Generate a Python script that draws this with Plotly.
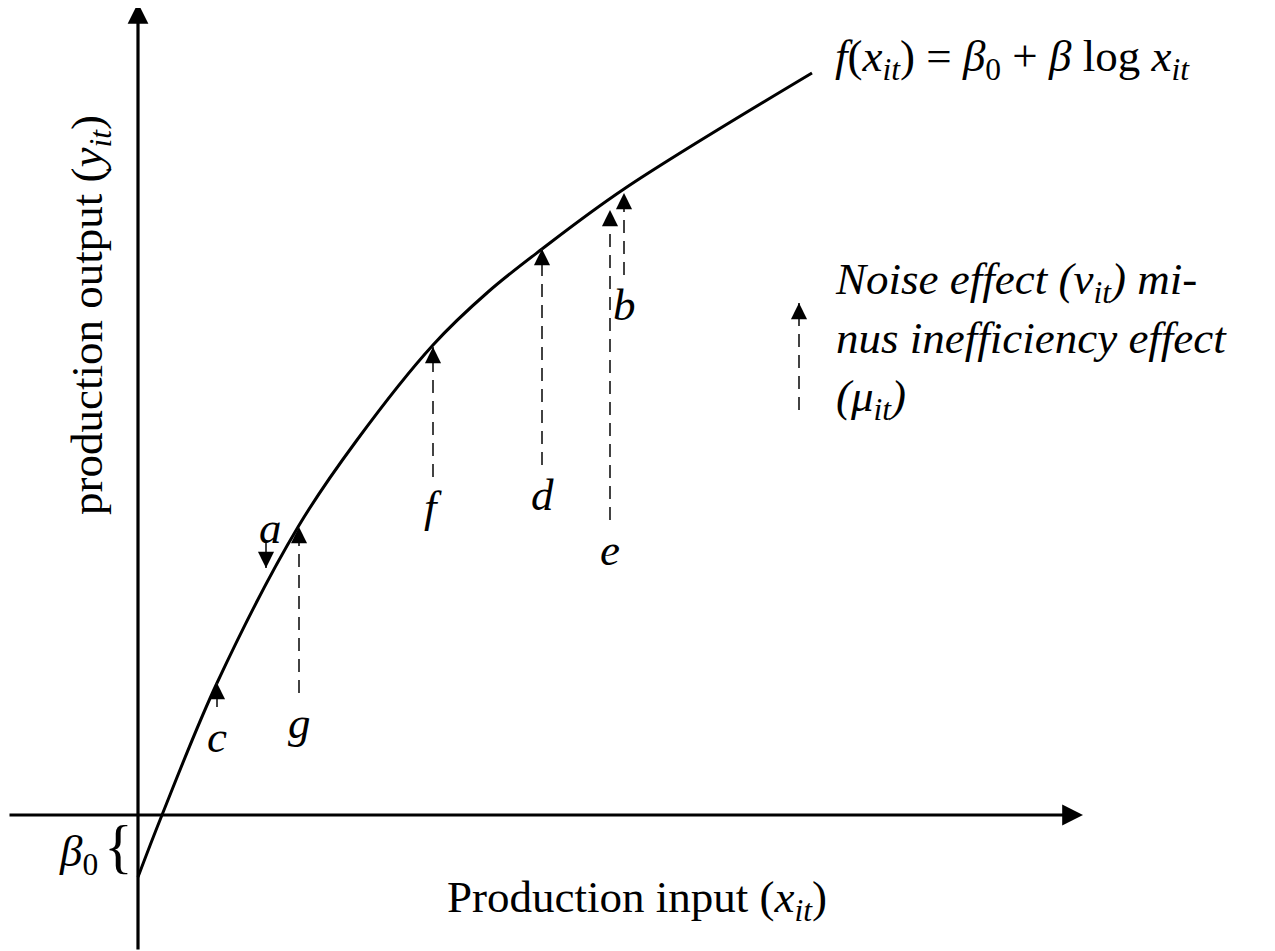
import plotly.graph_objects as go

# production frontier (1 unit = 100 px, origin where the axes cross)
curve_x = [0.0, 0.24, 0.79, 1.60, 2.19, 2.95, 3.50, 4.04, 4.86, 6.74]
curve_y = [-0.62, 0.0, 1.32, 2.88, 3.75, 4.70, 5.23, 5.66, 6.26, 7.42]

# observations: noise minus inefficiency arrows
obs_names = ["c", "g", "a", "f", "d", "e", "b"]
obs_x = [0.79, 1.61, 1.28, 2.95, 4.04, 4.72, 4.86]
obs_tail = [1.08, 1.22, 2.72, 3.38, 3.50, 2.95, 5.40]
obs_tip = [1.32, 2.88, 2.47, 4.68, 5.66, 6.05, 6.22]

# legend arrow
key_x = 6.61
key_tail = 4.05
key_tip = 5.12

beta0 = -0.62
# page has an 8px body margin, so the figure starts at page pixel 8
x_range = [-1.30, 11.37]
y_range = [-1.36, 8.07]

SERIF = "Liberation Serif, Times New Roman, serif"
FS = 45

fig = go.Figure()

fig.add_trace(go.Scatter(x=curve_x, y=curve_y, mode="lines",
                         line=dict(color="black", width=3, shape="spline", smoothing=1.0),
                         hoverinfo="skip"))

for xi, t0, t1 in zip(obs_x + [key_x], obs_tail + [key_tail], obs_tip + [key_tip]):
    fig.add_trace(go.Scatter(x=[xi, xi], y=[t0, t1], mode="lines",
                             line=dict(color="#222", width=1.7, dash="13px,8px"),
                             hoverinfo="skip"))

annotations = []

def arrow(x, y, ax, ay, width, size):
    return dict(x=x, y=y, ax=ax, ay=ay, xref="x", yref="y", axref="x", ayref="y",
                text="", showarrow=True, arrowhead=2, arrowwidth=width,
                arrowsize=size, arrowcolor="black", standoff=0, startstandoff=0)

# axes
annotations.append(arrow(0, 8.12, 0, y_range[0], 3.2, 1.3))
annotations.append(arrow(9.45, 0, -1.30, 0, 3.2, 1.3))

# arrowheads on the dashed lines
for xi, t0, t1 in zip(obs_x + [key_x], obs_tail + [key_tail], obs_tip + [key_tip]):
    d = 0.15 if t1 > t0 else -0.15
    annotations.append(arrow(xi, t1, xi, t1 - d, 1.7, 1.9))

# letters
for n, xi, t0, t1 in zip(obs_names, obs_x, obs_tail, obs_tip):
    if t1 > t0:
        lx, ly = xi, t0 - 0.30
    else:
        lx, ly = xi + 0.04, t0 + 0.15
    annotations.append(dict(x=lx, y=ly, xref="x", yref="y", text="<i>%s</i>" % n,
                            showarrow=False, yanchor="middle",
                            font=dict(family=SERIF, size=FS, color="black")))

annotations.append(dict(x=6.95, y=7.56, xref="x", yref="y", xanchor="left", showarrow=False,
                        text="<i>f</i>(<i>x</i><sub><i>it</i></sub>) = <i>β</i><sub>0</sub> + <i>β</i> log <i>x</i><sub><i>it</i></sub>",
                        font=dict(family=SERIF, size=FS, color="black")))

annotations.append(dict(x=6.95, y=4.75, xref="x", yref="y", xanchor="left", align="left",
                        showarrow=False,
                        text="<i>Noise effect (ν</i><sub><i>it</i></sub><i>) mi-</i><br>"
                             "<i>nus inefficiency effect</i><br>"
                             "<i>(μ</i><sub><i>it</i></sub><i>)</i>",
                        font=dict(family=SERIF, size=FS, color="black")))

annotations.append(dict(x=4.99, y=-0.85, xref="x", yref="y", showarrow=False,
                        text="Production input (<i>x</i><sub><i>it</i></sub>)",
                        font=dict(family=SERIF, size=FS, color="black")))

annotations.append(dict(x=-0.48, y=5.0, xref="x", yref="y", showarrow=False, textangle=-90,
                        text="production output (<i>y</i><sub><i>it</i></sub>)",
                        font=dict(family=SERIF, size=FS, color="black")))

annotations.append(dict(x=-0.60, y=beta0 / 2 - 0.08, xref="x", yref="y", showarrow=False,
                        text="<i>β</i><sub>0</sub>",
                        font=dict(family=SERIF, size=FS, color="black")))
annotations.append(dict(x=-0.20, y=beta0 / 2, xref="x", yref="y", showarrow=False,
                        text="{", font=dict(family=SERIF, size=60, color="black")))

fig.update_layout(
    width=1267, height=943,
    margin=dict(l=0, r=0, t=0, b=0),
    paper_bgcolor="white", plot_bgcolor="white",
    showlegend=False,
    xaxis=dict(range=x_range, visible=False),
    yaxis=dict(range=y_range, visible=False),
    annotations=annotations,
)

fig.write_html("out.html")
